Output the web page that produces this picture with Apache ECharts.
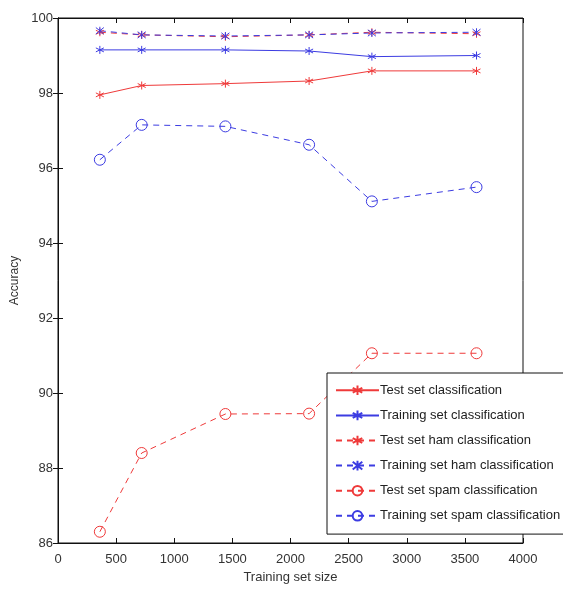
<!DOCTYPE html>
<head>
    <meta charset="UTF-8">
    <title>Accuracy</title>
</head>
<body style="margin:0">
<div id="main" style="width:563px;height:591px"></div>
<script src="https://cdn.jsdelivr.net/npm/echarts@6/dist/echarts.min.js"></script>
<script type="text/javascript">
    // training set sizes
    var sizes = [360, 720, 1440, 2160, 2700, 3600];
    var testAll = [97.95, 98.2, 98.25, 98.32, 98.59, 98.59];
    var trainAll = [99.15, 99.15, 99.15, 99.12, 98.97, 99.0];
    var testHam = [99.62, 99.55, 99.5, 99.55, 99.62, 99.58];
    var trainHam = [99.66, 99.55, 99.52, 99.55, 99.6, 99.62];
    var testSpam = [86.3, 88.4, 89.44, 89.45, 91.06, 91.06];
    var trainSpam = [96.22, 97.15, 97.11, 96.62, 95.11, 95.49];
    var names = ['Test set classification', 'Training set classification', 'Test set ham classification',
        'Training set ham classification', 'Test set spam classification', 'Training set spam classification'];

    var RED = '#ef3a3a';
    var BLUE = '#3c3ce2';
    var FONT = '"Liberation Sans Narrow", "Arial Narrow", "Liberation Sans", sans-serif';
    var star = 'path://M0,-5L0,5M-4.5,-2.5L4.5,2.5M-4.5,2.5L4.5,-2.5';
    var cross = 'path://M-4,-4L4,4M-4,4L4,-4M0,-5L0,5';
    var ring = 'path://M5,0A5,5 0 1 1 -5,0A5,5 0 1 1 5,0Z';

    function pairs(ys) {
        var out = [];
        for (var i = 0; i < sizes.length; i++) {
            out.push([sizes[i], ys[i]]);
        }
        return out;
    }

    function makeSeries(name, ys, color, dashed, symbol, size) {
        return {
            name: name,
            type: 'line',
            data: pairs(ys),
            symbol: symbol,
            symbolSize: size,
            showAllSymbol: true,
            lineStyle: {
                color: color,
                width: 1,
                type: dashed ? [6, 5] : 'solid'
            },
            itemStyle: {
                color: 'none',
                borderColor: color,
                borderWidth: 1
            },
            emphasis: {disabled: true}
        };
    }

    function plainNumber(v) {
        return String(v);
    }

    var option = {
        animation: false,
        backgroundColor: '#fff',
        grid: {
            left: 58,
            right: 40,
            top: 18,
            bottom: 48,
            show: true,
            borderColor: '#111',
            borderWidth: 1
        },
        legend: {
            orient: 'vertical',
            left: 327,
            top: 373,
            padding: [10, 40, 11, 8],
            itemWidth: 43,
            itemHeight: 12,
            itemGap: 10.5,
            backgroundColor: '#fff',
            borderColor: '#111',
            borderWidth: 1,
            textStyle: {color: '#222', fontFamily: FONT, fontSize: 13, padding: [0, 0, 0, -4]},
            data: names
        },
        xAxis: [{
            type: 'value',
            min: 0,
            max: 4000,
            interval: 500,
            name: 'Training set size',
            nameLocation: 'middle',
            nameGap: 28,
            nameTextStyle: {color: '#333', fontFamily: FONT, fontSize: 13},
            axisLine: {show: true, lineStyle: {color: '#111'}},
            axisTick: {inside: true, length: 5, lineStyle: {color: '#111'}},
            axisLabel: {margin: 10, color: '#333', fontFamily: FONT, fontSize: 13, formatter: plainNumber},
            splitLine: {show: false}
        }, {
            type: 'value',
            position: 'top',
            min: 0,
            max: 4000,
            interval: 500,
            axisLine: {show: true, lineStyle: {color: '#111'}},
            axisTick: {inside: true, length: 5, lineStyle: {color: '#111'}},
            axisLabel: {show: false},
            splitLine: {show: false}
        }],
        yAxis: [{
            type: 'value',
            min: 86,
            max: 100,
            interval: 2,
            name: 'Accuracy',
            nameLocation: 'middle',
            nameGap: 33,
            nameTextStyle: {color: '#333', fontFamily: FONT, fontSize: 12},
            axisLine: {show: true, lineStyle: {color: '#111'}},
            axisTick: {show: true, inside: true, length: 5, lineStyle: {color: '#111'}},
            axisLabel: {margin: 5, color: '#333', fontFamily: FONT, fontSize: 13, formatter: plainNumber},
            splitLine: {show: false}
        }, {
            type: 'value',
            position: 'right',
            min: 86,
            max: 100,
            interval: 2,
            axisLine: {show: true, lineStyle: {color: '#111'}},
            axisTick: {show: true, inside: true, length: 5, lineStyle: {color: '#111'}},
            axisLabel: {show: false},
            splitLine: {show: false}
        }],
        series: [
            makeSeries(names[0], testAll, RED, false, star, 8),
            makeSeries(names[1], trainAll, BLUE, false, star, 8),
            makeSeries(names[2], testHam, RED, true, star, 8),
            makeSeries(names[3], trainHam, BLUE, true, cross, 8),
            makeSeries(names[4], testSpam, RED, true, ring, 11),
            makeSeries(names[5], trainSpam, BLUE, true, ring, 11)
        ]
    };

    var myChart = echarts.init(document.getElementById('main'));
    myChart.setOption(option);
</script>
</body>
